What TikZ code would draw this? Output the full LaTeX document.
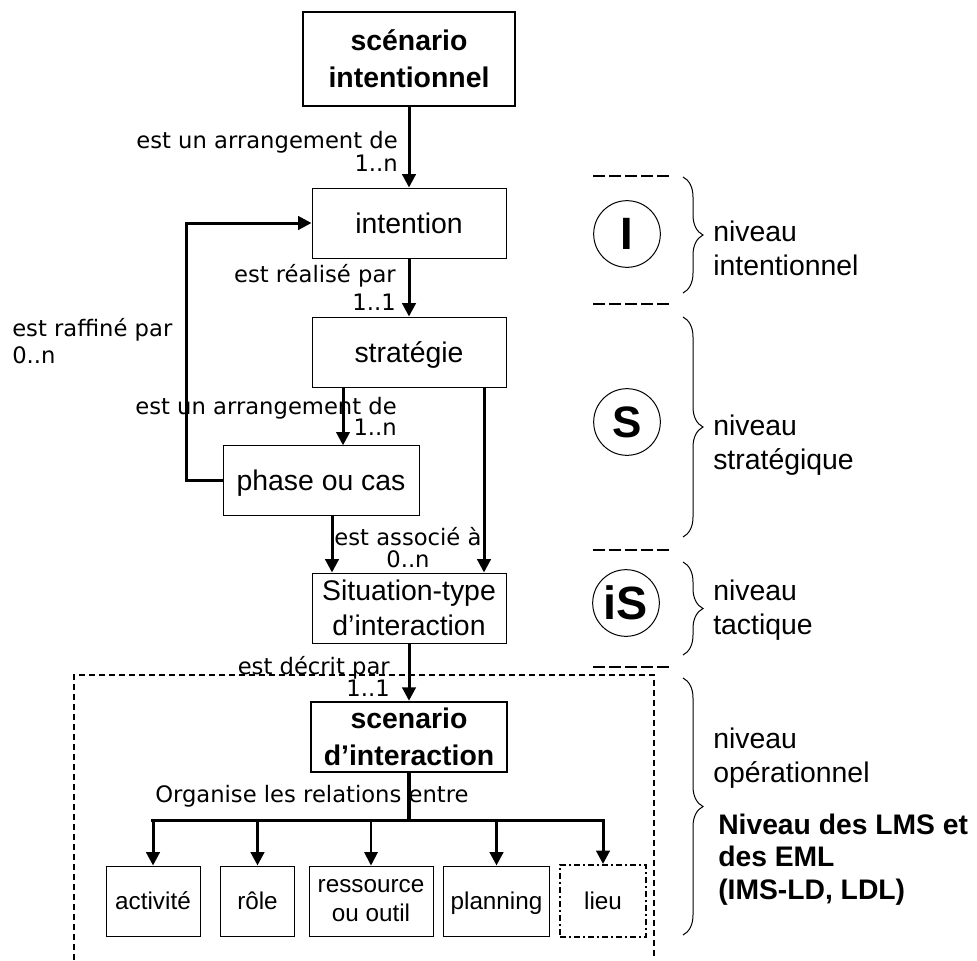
\documentclass[tikz,border=0pt]{standalone}
\usepackage{fontspec}
\setmainfont{Liberation Sans}
\newfontfamily\lblfont{DejaVu Sans}
\usepackage{tikz}
\usetikzlibrary{arrows.meta, calc, decorations.pathreplacing}

\begin{document}
\begin{tikzpicture}[x=0.75pt, y=-0.75pt,
    box/.style={rectangle, draw, line width=0.75pt, inner sep=0pt, minimum width=145.5pt,
                minimum height=52.5pt, align=center, font=\fontsize{21.3}{26.5}\selectfont},
    flat/.style={text depth=0pt},
    bigbox/.style={box, line width=1.9pt, font=\fontsize{21.3}{27.5}\selectfont\bfseries},
    leaf/.style={box, font=\fontsize{18.2}{21.75}\selectfont},
    lbl/.style={inner sep=0pt, font=\lblfont\fontsize{17}{17.25}\selectfont},
    lvl/.style={circle, draw, line width=0.75pt, minimum size=50pt, inner sep=0pt,
                font=\fontsize{34}{34}\selectfont\bfseries},
    niv/.style={anchor=west, inner sep=0pt, align=left, font=\fontsize{21.3}{25.5}\selectfont},
    arrow/.style={-{Triangle[length=10pt, width=10pt]}, line width=2.25pt},
    sep/.style={dash pattern=on 9pt off 3pt, line width=1.5pt},
    brace/.style={decorate, decoration={brace, amplitude=15pt}, line width=0.75pt},
]
\useasboundingbox (0,0) rectangle (977,960);

% Main column
\node[bigbox, minimum width=159pt, minimum height=70.5pt] (scen) at (409,59) {sc\'enario\\intentionnel};
\node[box] (intent) at (409,223) {intention};
\node[box, flat] (strat) at (409,352) {strat\'egie};
\node[box, flat, minimum width=147pt, minimum height=52pt] (phase) at (321,480.5) {phase ou cas};
\node[box] (sit) at (409,608) {Situation-type\\d’interaction};
\node[bigbox, minimum width=147pt] (scenint) at (409,737) {scenario\\d’interaction};

% Bottom row
\node[leaf, minimum width=70.5pt] (act) at (153,901) {activit\'e};
\node[leaf, minimum width=55pt] (role) at (257.5,901) {r\^ole};
\node[leaf, minimum width=93pt] (res) at (371,901) {ressource\\ou outil};
\node[leaf, flat, minimum width=79pt] (plan) at (496.5,901) {planning};
\node[leaf, minimum width=64.5pt, minimum height=54pt, line width=1.5pt,
      dash pattern=on 4.5pt off 2.25pt on 1.5pt off 2.25pt] (lieu) at (603,901) {lieu};

% Links
\draw[arrow] (scen) -- (intent);
\draw[arrow] (intent) -- (strat);
\coordinate (a1) at ($(phase.north)+(22,0)$);
\draw[arrow] (a1 |- strat.south) -- (a1);
\coordinate (a2) at ($(phase.south)+(11,0)$);
\draw[arrow] (a2) -- (a2 |- sit.north);
\coordinate (a3) at ($(strat.south)+(75,0)$);
\draw[arrow] (a3) -- (a3 |- sit.north);
\draw[arrow] (phase.west) -- ++(-36,0) |- (intent.west);
\draw[arrow] (sit) -- (scenint);

% Link labels
\node[lbl, anchor=east, align=right] (l1) at (398,151.5) {est un arrangement de\\1..n};
\node[lbl, anchor=east, align=right] (l2) at (396,287) {est r\'ealis\'e par\\[3.75pt]1..1};
\node[lbl, anchor=west, align=left] (l3) at (12,341.5) {est raffin\'e par\\[3pt]0..n};
\node[lbl, anchor=east, align=right] (l4) at (397,416.5) {est un arrangement de\\[-1.5pt]1..n};
\node[lbl, align=center] (l5) at (408,548) {est associ\'e \`a\\[-0.75pt]0..n};
\node[lbl, anchor=east, align=right] (l6) at (390,676) {est d\'ecrit par\\[-0.75pt]1..1};
\node[lbl, anchor=west] (l7) at (155,796) {Organise les relations entre};

% Bus to the bottom row
\coordinate (bus) at ($(scenint.south)+(0,47)$);
\draw[line width=2.6pt] (scenint.south) -- (bus);
\draw[line width=2.6pt, line cap=rect] (act.north |- bus) -- (lieu.north |- bus);
\foreach \n in {act, role, plan, lieu}
    \draw[arrow] (\n.north |- bus) -- (\n.north);
\draw[arrow, line width=1.4pt] (res.north |- bus) -- (res.north);

% Operational frame
\draw[dash pattern=on 4.5pt off 3pt, line width=1.3pt] (74,960) -- (74,675) -- (654,675) -- (654,960);

% Levels
\node[lvl] (cI) at (627,234) {I};
\node[lvl, font=\fontsize{33}{33}\selectfont\bfseries] (cS) at (627,422) {S};
\node[lvl, font=\fontsize{35}{35}\selectfont\bfseries] (ciS) at (626,603) {iS};
\foreach \y in {176,304,550,667}
    \draw[sep] (593,\y) -- (672,\y);
\draw[brace] (683,177) -- (683,293);
\draw[brace] (683,317) -- (683,537);
\draw[brace] (683,562) -- (683,655);
\draw[brace] (683,678) -- (683,935);
\node[niv] (n1) at (713,248) {niveau\\intentionnel};
\node[niv] (n2) at (713,445.5) {niveau\\strat\'egique};
\node[niv] (n3) at (713,610) {niveau\\tactique};
\node[niv] (n4) at (713,758.5) {niveau\\op\'erationnel};
\node[niv, font=\fontsize{21.2}{24.4}\selectfont\bfseries] (n5) at (718,859.5) {Niveau des LMS et\\des EML\\(IMS-LD, LDL)};

\end{tikzpicture}
\end{document}
